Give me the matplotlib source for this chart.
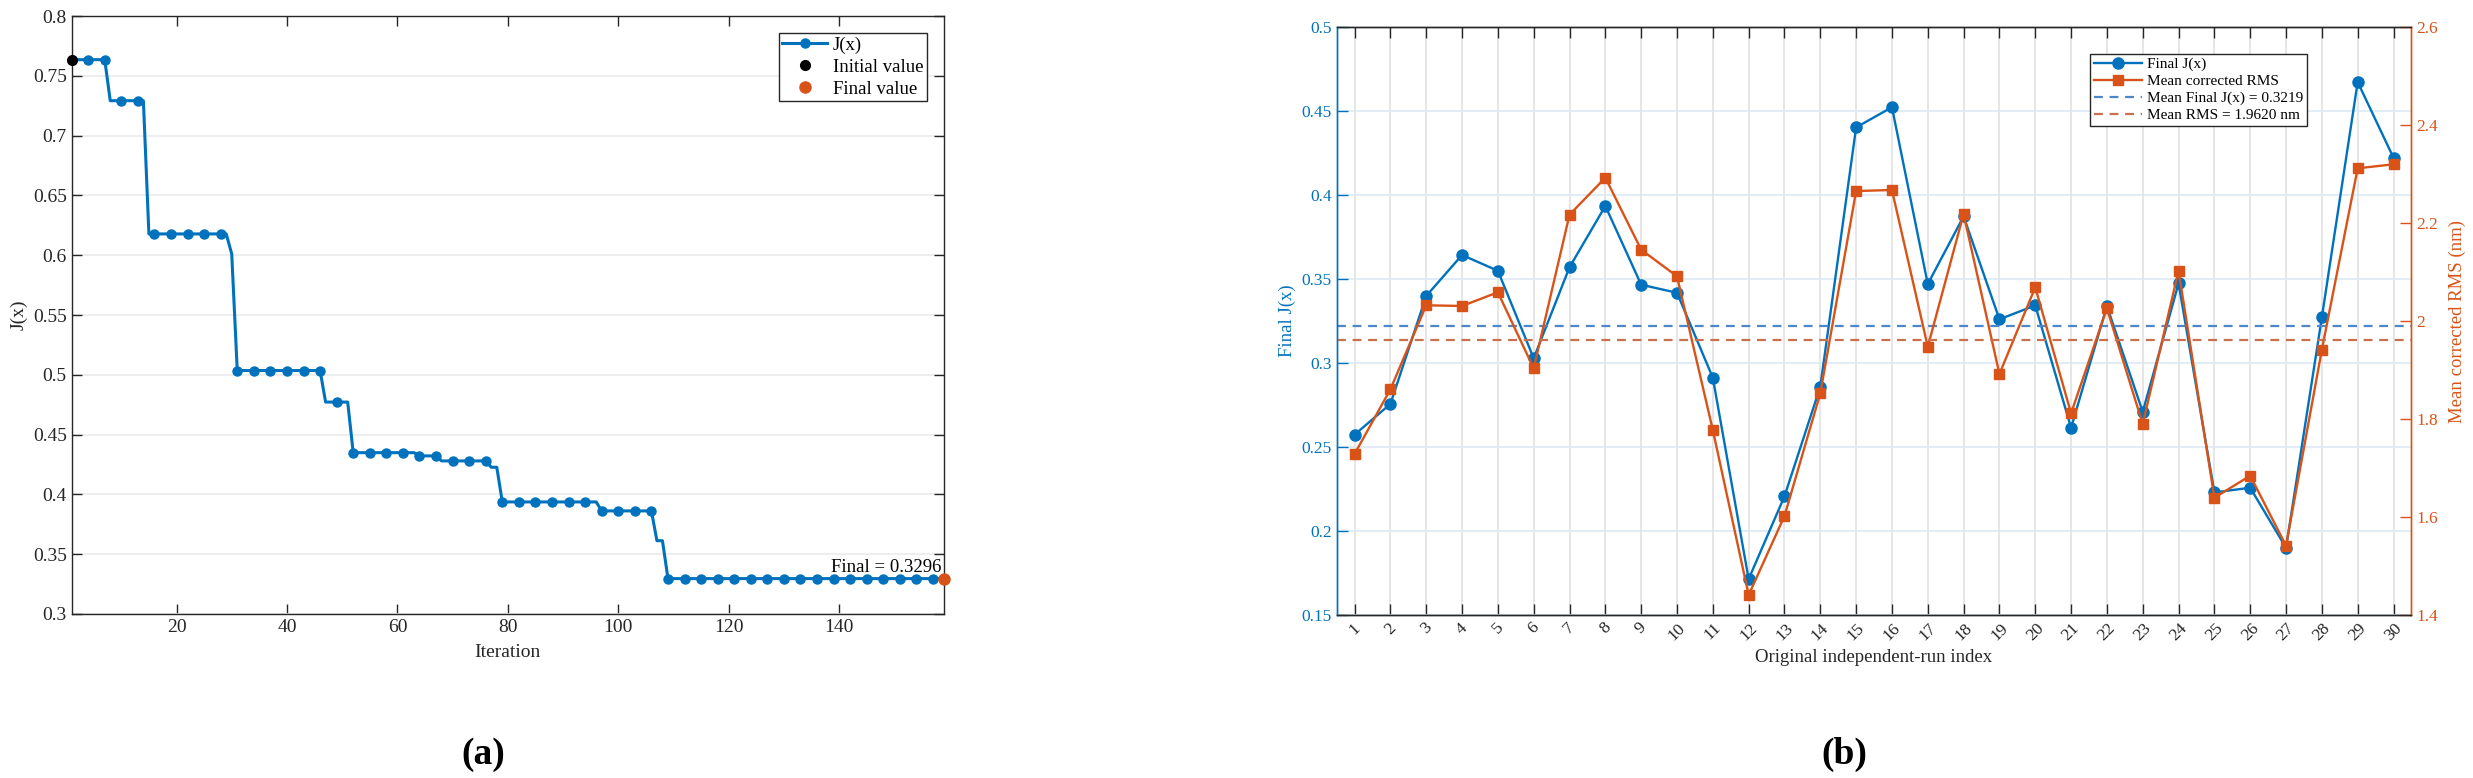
import numpy as np
import matplotlib.pyplot as plt

plt.rcParams['font.family'] = ['Liberation Serif', 'DejaVu Serif']

# (a) convergence history: plateau values and how many iterations each one lasts
step_vals = [0.7635, 0.7292, 0.6178, 0.6011, 0.5036, 0.4772, 0.4349,
             0.4322, 0.4280, 0.4227, 0.3937, 0.3862, 0.3613, 0.3296]
step_lens = [7, 7, 15, 1, 16, 5, 12, 4, 9, 2, 18, 10, 2, 51]
final_val = 0.3296

# (b) per-run results
run_idx = list(range(1, 31))
final_j = [0.2574, 0.2757, 0.3400, 0.3644, 0.3550, 0.3029, 0.3571, 0.3936, 0.3467, 0.3419,
           0.2913, 0.1714, 0.2207, 0.2860, 0.4404, 0.4524, 0.3471, 0.3874, 0.3261, 0.3344,
           0.2615, 0.3340, 0.2710, 0.3475, 0.2230, 0.2258, 0.1900, 0.3273, 0.4674, 0.4223]
mean_rms = [1.7287, 1.8608, 2.0324, 2.0310, 2.0589, 1.9037, 2.2174, 2.2929, 2.1459, 2.0916,
            1.7777, 1.4408, 1.6021, 1.8527, 2.2657, 2.2678, 1.9478, 2.2188, 1.8921, 2.0691,
            1.8118, 2.0262, 1.7900, 2.1030, 1.6395, 1.6844, 1.5415, 1.9417, 2.3121, 2.3203]
mean_j_val = 0.3219
mean_rms_val = 1.9620

blue = '#0072BD'
orange = '#D95319'
axcol = '#262626'

jx = np.repeat(step_vals, step_lens)
iters = np.arange(1, len(jx) + 1)

fig = plt.figure(figsize=(24.73, 7.78), dpi=100)

# ---- panel (a)
ax = fig.add_axes([0.02895, 0.2108, 0.3528, 0.7686])
ax.plot(iters, jx, '-o', color=blue, lw=2.2, ms=6.5, markevery=3, label='J(x)')
ax.plot(iters[0], jx[0], 'o', color='black', ms=7, clip_on=False, zorder=5,
        label='Initial value')
ax.plot(iters[-1], final_val, 'o', color=orange, ms=8, clip_on=False, zorder=5,
        label='Final value')
ax.text(iters[-1] - 0.5, final_val + 0.002, 'Final = %.4f' % final_val,
        ha='right', va='bottom', fontsize=13.5, color='black')
ax.set_xlim(1, iters[-1])
ax.set_ylim(0.3, 0.8)
ax.set_xticks(range(20, 160, 20))
yt = np.arange(0.3, 0.8001, 0.05)
ax.set_yticks(yt)
ax.set_yticklabels(['%g' % round(v, 2) for v in yt])
ax.yaxis.grid(True, color='#ebebeb', lw=1.2)
ax.set_axisbelow(True)
ax.tick_params(direction='in', top=True, right=True, length=7, width=1,
               labelsize=14, colors=axcol)
for s in ax.spines.values():
    s.set_color(axcol)
    s.set_linewidth(1)
ax.set_xlabel('Iteration', fontsize=14, color=axcol, labelpad=6)
ax.set_ylabel('J(x)', fontsize=14, color=axcol, labelpad=4)
leg = ax.legend(loc='upper right', fontsize=13.5, fancybox=False, framealpha=1,
                edgecolor=axcol, borderaxespad=0.9, handlelength=2.4,
                handletextpad=0.3, borderpad=0.2, labelspacing=0.25)
leg.get_frame().set_linewidth(1)

# ---- panel (b)
bx = fig.add_axes([0.5405, 0.2095, 0.4346, 0.7554])
bx2 = bx.twinx()
l1, = bx.plot(run_idx, final_j, '-o', color=blue, lw=1.7, ms=8, label='Final J(x)')
l2, = bx2.plot(run_idx, mean_rms, '-s', color=orange, lw=1.7, ms=6.5, label='Mean corrected RMS')
l3 = bx.axhline(mean_j_val, color='#4f86c6', lw=1.6, ls=(0, (4, 3)),
                label='Mean Final J(x) = %.4f' % mean_j_val)
l4 = bx2.axhline(mean_rms_val, color='#c8704f', lw=1.6, ls=(0, (4, 3)),
                 label='Mean RMS = %.4f nm' % mean_rms_val)

bx.set_xlim(0.5, 30.5)
bx.set_ylim(0.15, 0.5)
bx2.set_ylim(1.4, 2.6)
bx.set_xticks(run_idx)
bx.set_xticklabels([str(i) for i in run_idx], rotation=45, ha='center')
byt = np.arange(0.15, 0.5001, 0.05)
bx.set_yticks(byt)
bx.set_yticklabels(['%g' % round(v, 2) for v in byt])
ryt = np.arange(1.4, 2.6001, 0.2)
bx2.set_yticks(ryt)
bx2.set_yticklabels(['%g' % round(v, 1) for v in ryt])

bx.xaxis.grid(True, color='#e2e2e2', lw=1.2)
bx.yaxis.grid(True, color='#dde9f5', lw=1.2)
bx.set_axisbelow(True)
bx.tick_params(axis='x', direction='in', top=True, length=8, width=1,
               labelsize=12.5, colors=axcol)
bx.tick_params(axis='y', direction='in', length=8, width=1, labelsize=12.5,
               colors=blue)
bx2.tick_params(axis='y', direction='in', length=8, width=1, labelsize=12.5,
                colors=orange)
for a in (bx, bx2):
    a.spines['top'].set_color(axcol)
    a.spines['bottom'].set_color(axcol)
    a.spines['left'].set_color(blue)
    a.spines['right'].set_color(orange)
    for s in a.spines.values():
        s.set_linewidth(1)
bx.set_xlabel('Original independent-run index', fontsize=13.5, color=axcol, labelpad=4)
bx.set_ylabel('Final J(x)', fontsize=13.5, color=blue, labelpad=4)
bx2.set_ylabel('Mean corrected RMS (nm)', fontsize=13.5, color=orange, labelpad=8)

leg2 = bx2.legend(handles=[l1, l2, l3, l4], loc='upper right',
                  bbox_to_anchor=(0.91, 0.968), fontsize=11, fancybox=False,
                  framealpha=1, edgecolor=axcol, handlelength=3.2,
                  handletextpad=0.3, borderpad=0.25, labelspacing=0.2)
leg2.get_frame().set_linewidth(1)

fig.text(0.1953, 0.03, '(a)', fontsize=27, fontweight='bold', ha='center', va='center')
fig.text(0.7456, 0.03, '(b)', fontsize=27, fontweight='bold', ha='center', va='center')

fig.savefig('out.png', dpi=100)
